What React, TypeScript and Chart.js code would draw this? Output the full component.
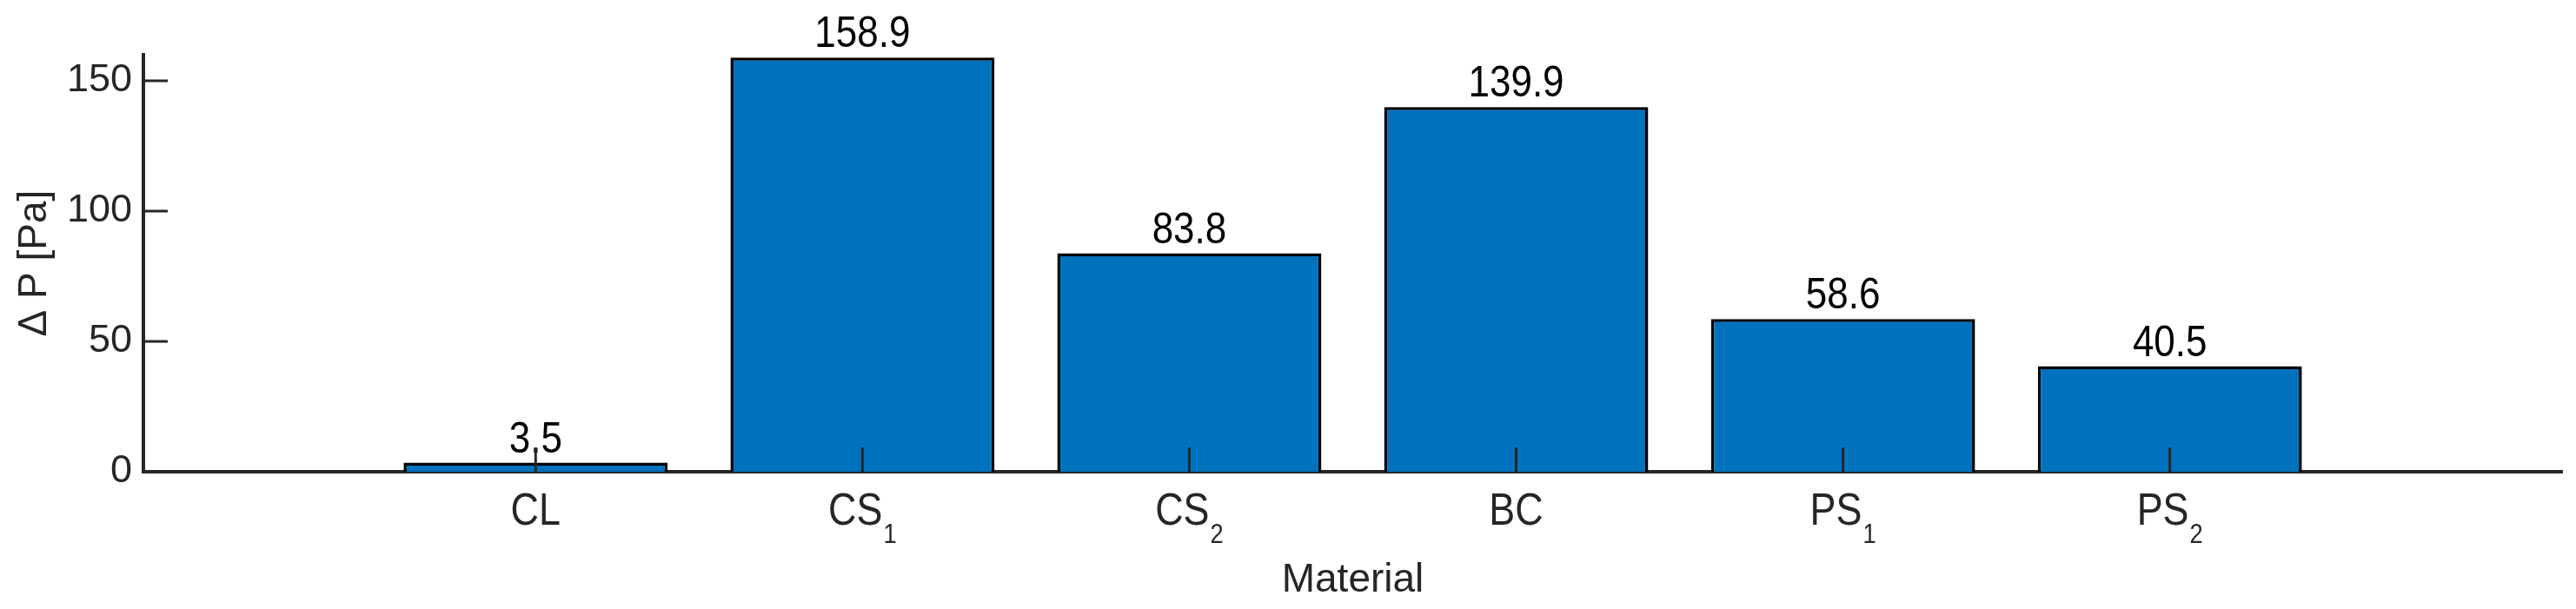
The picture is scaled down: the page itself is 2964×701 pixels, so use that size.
import React, { useEffect, useRef } from 'react';
import { Chart, registerables } from 'chart.js';

Chart.register(...registerables);

// ---- data ----
const categories: string[] = ['CL', 'CS_1', 'CS_2', 'BC', 'PS_1', 'PS_2'];
const pressureDrop: number[] = [3.5, 158.9, 83.8, 139.9, 58.6, 40.5];
const yTickValues: number[] = [0, 50, 100, 150];
const xAxisTitle = 'Material';
const yAxisTitle = 'Δ P [Pa]';

// ---- style ----
const WIDTH = 2964;
const HEIGHT = 701;
const FONT_FAMILY = '"Liberation Sans", Arial, Helvetica, sans-serif';
const AXIS_COLOR = '#262626';
const BAR_COLOR = '#0072BD';
const TEXT_SX = 0.88;

function measureText(ctx: CanvasRenderingContext2D, text: string, size: number, sx: number) {
  ctx.save();
  ctx.font = `${size}px ${FONT_FAMILY}`;
  const w = ctx.measureText(text).width * sx;
  ctx.restore();
  return w;
}

function drawScaledText(
  ctx: CanvasRenderingContext2D,
  text: string,
  x: number,
  y: number,
  size: number,
  sx: number,
  color: string
) {
  ctx.save();
  ctx.translate(x, y);
  ctx.scale(sx, 1);
  ctx.font = `${size}px ${FONT_FAMILY}`;
  ctx.fillStyle = color;
  ctx.textAlign = 'left';
  ctx.textBaseline = 'alphabetic';
  ctx.fillText(text, 0, 0);
  ctx.restore();
}

function drawTexLabel(ctx: CanvasRenderingContext2D, label: string, cx: number, baseline: number) {
  const [main, sub] = label.split('_');
  const mainSize = 51;
  const subSize = 31;
  const gap = 1;
  const mw = measureText(ctx, main, mainSize, TEXT_SX);
  const sw = sub ? measureText(ctx, sub, subSize, TEXT_SX) + gap : 0;
  const x0 = cx - (mw + sw) / 2;
  drawScaledText(ctx, main, x0, baseline, mainSize, TEXT_SX, AXIS_COLOR);
  if (sub) {
    drawScaledText(ctx, sub, x0 + mw + gap, baseline + 21, subSize, TEXT_SX, AXIS_COLOR);
  }
}

const matlabDecor = {
  id: 'matlabDecor',
  afterDatasetsDraw(chart: any) {
    const ctx: CanvasRenderingContext2D = chart.ctx;
    const meta = chart.getDatasetMeta(0);
    meta.data.forEach((bar: any, i: number) => {
      const text = pressureDrop[i].toFixed(1);
      const w = measureText(ctx, text, 50, TEXT_SX);
      drawScaledText(ctx, text, bar.x - w / 2, bar.y - 12, 50, TEXT_SX, '#000000');
    });
  },
  afterDraw(chart: any) {
    const ctx: CanvasRenderingContext2D = chart.ctx;
    const { chartArea, scales } = chart;
    const xs = scales.x;
    const ys = scales.y;
    const tickLen = 28;
    ctx.save();
    ctx.strokeStyle = AXIS_COLOR;
    ctx.lineWidth = 3;
    ctx.lineCap = 'butt';
    ctx.beginPath();
    yTickValues.forEach((v) => {
      const py = ys.getPixelForValue(v);
      ctx.moveTo(chartArea.left, py);
      ctx.lineTo(chartArea.left + tickLen, py);
    });
    categories.forEach((_, i) => {
      const px = xs.getPixelForValue(i + 1);
      ctx.moveTo(px, chartArea.bottom);
      ctx.lineTo(px, chartArea.bottom - tickLen);
    });
    ctx.stroke();
    ctx.restore();

    categories.forEach((c, i) => {
      const px = xs.getPixelForValue(i + 1);
      drawTexLabel(ctx, c, px, chartArea.bottom + 61);
    });
  },
};

export default function App() {
  const canvasRef = useRef<HTMLCanvasElement>(null);

  useEffect(() => {
    document.body.style.margin = '0';
    document.documentElement.style.overflow = 'hidden';
    const canvas = canvasRef.current;
    if (!canvas) return;

    const chart = new Chart(canvas, {
      type: 'bar',
      data: {
        datasets: [
          {
            label: yAxisTitle,
            data: pressureDrop.map((v, i) => ({ x: i + 1, y: v })),
            backgroundColor: BAR_COLOR,
            borderColor: '#000000',
            borderWidth: 3.5,
            borderSkipped: 'start',
            barPercentage: 0.808,
            categoryPercentage: 1.0,
          } as any,
        ],
      },
      options: {
        responsive: false,
        animation: false,
        devicePixelRatio: 1,
        layout: { padding: { top: 63, right: 16, left: 0, bottom: 0 } },
        plugins: {
          legend: { display: false },
          tooltip: { enabled: false },
          title: { display: false },
        },
        scales: {
          x: {
            type: 'linear',
            min: -0.2,
            max: 7.2,
            offset: false,
            z: 1,
            grid: { display: false, drawTicks: false },
            border: { display: true, color: AXIS_COLOR, width: 4 },
            ticks: { display: false },
            afterBuildTicks: (s: any) => {
              s.ticks = categories.map((_, i) => ({ value: i + 1 }));
            },
            afterFit: (s: any) => {
              s.height = 158;
            },
            title: {
              display: true,
              text: xAxisTitle,
              color: AXIS_COLOR,
              font: { family: FONT_FAMILY, size: 46 },
              padding: { top: 0, bottom: 5 },
            },
          } as any,
          y: {
            type: 'linear',
            min: 0,
            max: 160,
            z: 1,
            grid: { display: false, drawTicks: false },
            border: { display: true, color: AXIS_COLOR, width: 4 },
            ticks: {
              color: AXIS_COLOR,
              font: { family: FONT_FAMILY, size: 45 },
              padding: 13,
            },
            afterBuildTicks: (s: any) => {
              s.ticks = yTickValues.map((v) => ({ value: v }));
            },
            afterFit: (s: any) => {
              s.width = 165;
            },
            title: {
              display: true,
              text: yAxisTitle,
              color: AXIS_COLOR,
              font: { family: FONT_FAMILY, size: 46 },
              padding: { top: 13, bottom: 0 },
            },
          } as any,
        },
      },
      plugins: [matlabDecor],
    });

    return () => chart.destroy();
  }, []);

  return (
    <div style={{ width: WIDTH, height: HEIGHT }}>
      <canvas
        ref={canvasRef}
        width={WIDTH}
        height={HEIGHT}
        style={{ display: 'block', width: WIDTH, height: HEIGHT }}
      />
    </div>
  );
}
